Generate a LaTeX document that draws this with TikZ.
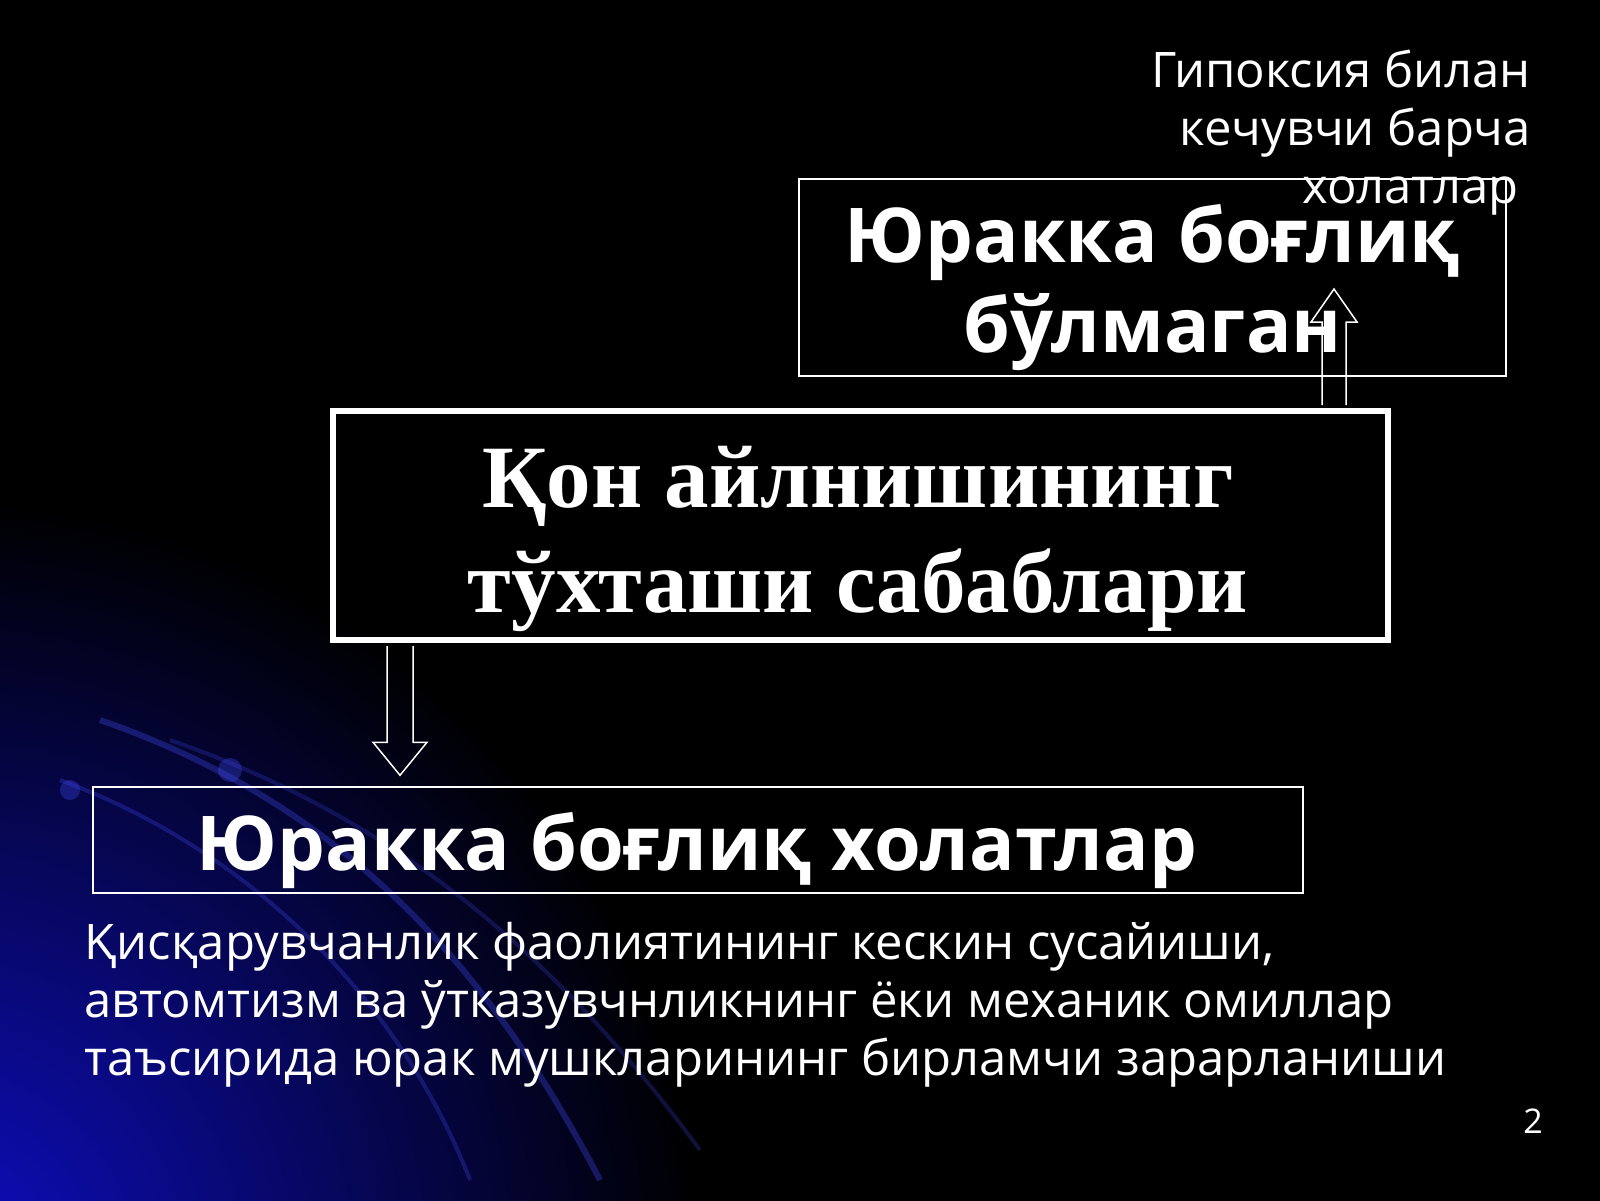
\documentclass[tikz,border=0pt]{standalone}
\usepackage{fontspec}
\setmainfont{Liberation Serif}
\newfontfamily\osans{Open Sans}
\usetikzlibrary{calc}
\definecolor{glow}{RGB}{14,14,195}
\definecolor{streak}{RGB}{60,70,230}
\newcommand{\natsp}{\spaceskip=\fontdimen2\font\xspaceskip=\fontdimen2\font\relax}
\begin{document}
\begin{tikzpicture}[x=0.5pt,y=-0.5pt,
  thinbox/.style={draw=white,line width=0.75pt,inner sep=0pt},
  thickbox/.style={draw=white,line width=3pt,inner sep=0pt},
  sanstext/.style={text=white,font=\osans\fontsize{24.5pt}{29pt}\selectfont,inner sep=0pt},
  boldsans/.style={text=white,font=\osans\bfseries\fontsize{37.8pt}{45pt}\selectfont,inner sep=0pt},
  boldserif/.style={text=white,font=\bfseries\fontsize{44.5pt}{52.5pt}\selectfont,inner sep=0pt},
  blockarrow/.style={draw=white,line width=0.75pt,line join=miter}]
\useasboundingbox (0,0) rectangle (1600,1200);
% background
\fill[black] (-20,-20) rectangle (1620,1220);
\begin{scope}
\clip (-20,-20) rectangle (1620,1220);
\shade[inner color=glow,outer color=black] (-60,1260) circle (760);
\draw[streak,opacity=0.35,line width=3pt] (100,720) .. controls (330,800) and (480,950) .. (600,1180);
\draw[streak,opacity=0.3,line width=2pt] (60,780) .. controls (250,850) and (400,1000) .. (470,1180);
\draw[streak,opacity=0.25,line width=2pt] (170,740) .. controls (400,820) and (560,960) .. (700,1150);
\fill[streak,opacity=0.35] (70,790) circle (10);
\fill[streak,opacity=0.35] (230,770) circle (12);
\end{scope}
% boxes
\node[thinbox,minimum width=353.5pt,minimum height=98.5pt] (nocard) at (1152.5,277.5) {};
\node[thickbox,minimum width=527.5pt,minimum height=114.5pt] (main) at (860.5,525.5) {};
\node[thinbox,minimum width=605pt,minimum height=53pt] (card) at (698,840) {};
% box texts
\node[boldsans,text width=360pt,align=center,anchor=base] (nocardtext) at (nocard.center |- 0,262)
  {\natsp Юракка боғлиқ\\бўлмаган};
\node[boldserif,text width=520pt,align=center,anchor=base] (maintext) at (858,507)
  {\natsp Қон айлнишининг\\тўхташи сабаблари};
\node[boldsans,anchor=base] (cardtext) at (697,870) {Юракка боғлиқ холатлар};
% free texts
\node[sanstext,text width=240pt,align=right,anchor=base east] (hyp) at (1531,87)
  {\natsp Гипоксия билан\\кечувчи барча\\холатлар\hspace*{6pt}};
\node[sanstext,text width=740pt,align=left,anchor=base west] (desc) at (84,959)
  {\natsp Қисқарувчанлик фаолиятининг кескин сусайиши,\\автомтизм ва ўтказувчнликнинг ёки механик омиллар\\таъсирида юрак мушкларининг бирламчи зарарланиши};
\node[text=white,font=\osans\fontsize{17pt}{20pt}\selectfont,inner sep=0pt,anchor=base] (pg) at (1533,1133) {2};
% block arrows
\coordinate (upfoot) at (main.north -| 1334,0);
\coordinate (uptip) at (1334,289);
\draw[blockarrow] ($(upfoot)+(-12,-3)$) -- ($(uptip)+(-12,33)$) -- ($(uptip)+(-23,33)$) -- (uptip)
  -- ($(uptip)+(23,33)$) -- ($(uptip)+(12,33)$) -- ($(upfoot)+(12,-3)$);
\coordinate (dnfoot) at (main.south -| 400,0);
\coordinate (dntip) at (card.north -| 400,0);
\draw[blockarrow] ($(dnfoot)+(-13,3)$) -- ($(dntip)+(-13,-44)$) -- ($(dntip)+(-27,-44)$) -- ($(dntip)+(0,-11)$)
  -- ($(dntip)+(27,-44)$) -- ($(dntip)+(13,-44)$) -- ($(dnfoot)+(13,3)$);
\end{tikzpicture}
\end{document}
